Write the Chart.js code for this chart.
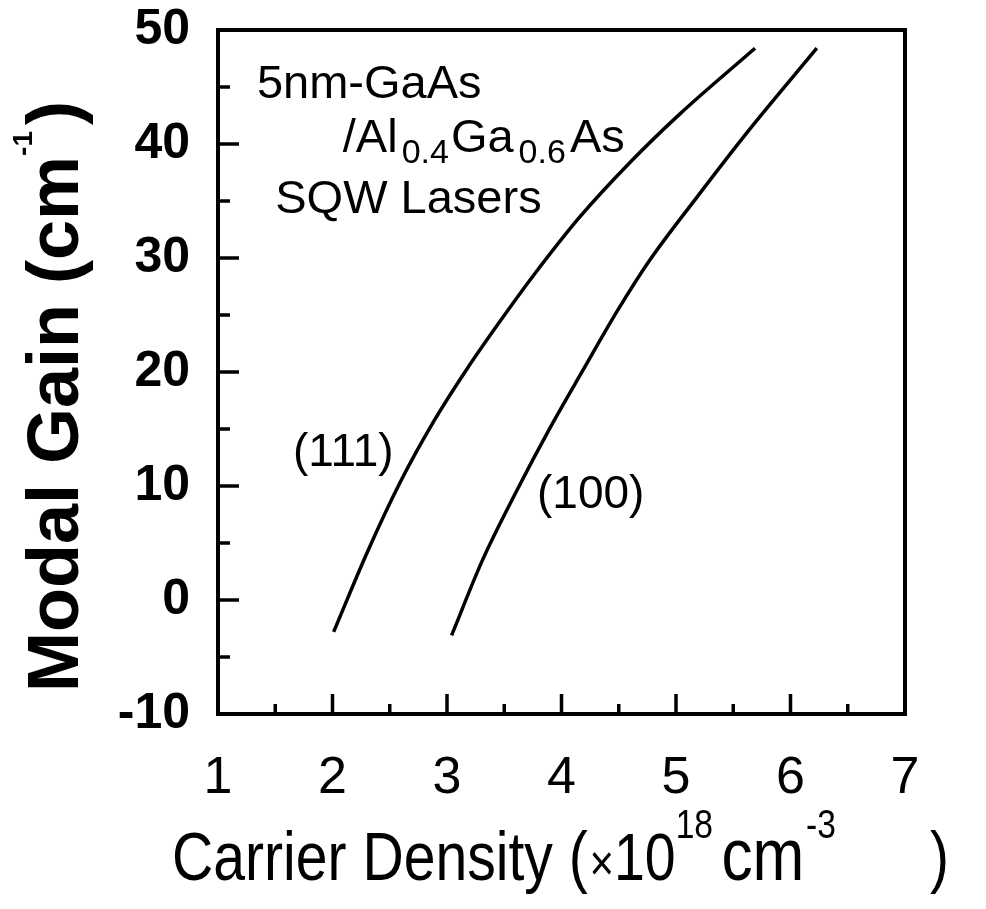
<!DOCTYPE html>
<html>
<head>
<meta charset="utf-8">
<script src="https://cdn.jsdelivr.net/npm/chart.js@4.4.1/dist/chart.umd.min.js"></script>
<style>
  html, body { margin: 0; padding: 0; background: #fff; }
  #wrap { width: 986px; height: 909px; position: relative; }
</style>
</head>
<body>
<div id="wrap"><canvas id="gainChart"></canvas></div>
<script>
// Modal gain (cm^-1) against carrier density (x1e18 cm^-3)
const density111 = [2.01, 2.30, 2.59, 2.88, 3.17, 3.46, 3.75, 4.16, 4.60, 5.03, 5.69];
const gain111    = [-2.8, 4.1, 10.3, 15.6, 20.2, 24.4, 28.4, 33.6, 38.4, 42.6, 48.4];

const density100 = [3.04, 3.31, 3.61, 3.90, 4.19, 4.49, 4.77, 5.18, 5.62, 6.23];
const gain100    = [-3.1, 3.5, 9.6, 15.1, 20.2, 25.4, 29.8, 35.3, 41.0, 48.4];

const xTickValues = [1, 2, 3, 4, 5, 6, 7];
const yTickValues = [-10, 0, 10, 20, 30, 40, 50];

const FONT = '"Liberation Sans", Arial, Helvetica, sans-serif';

// text placed in data coordinates (left edge / baseline)
const notes = [
    { x: 1.34, y: 44.0, runs: [{ t: '5nm-GaAs', size: 47 }] },
    { x: 2.09, y: 39.3, runs: [
        { t: '/Al', size: 47 },
        { t: '0.4', size: 34, dy: 11, gap: 4 },
        { t: 'Ga', size: 47, gap: 2 },
        { t: '0.6', size: 34, dy: 11, gap: 5 },
        { t: 'As', size: 47, gap: 4 }
    ] },
    { x: 1.50, y: 33.95, runs: [{ t: 'SQW Lasers', size: 47 }] },
    { x: 1.655, y: 11.75, runs: [{ t: '(111)', size: 46 }] },
    { x: 3.786, y: 8.07, runs: [{ t: '(100)', size: 46 }] }
];

function toPoints(xs, ys) {
    return xs.map((x, i) => ({ x: x, y: ys[i] }));
}

// draws a row of text pieces one after another, returns the end x
function drawRuns(ctx, runs, x, y, weight) {
    let cx = x;
    runs.forEach(r => {
        cx += r.gap || 0;
        ctx.font = (weight || 'normal') + ' ' + r.size + 'px ' + FONT;
        ctx.fillText(r.t, cx, y + (r.dy || 0));
        cx += ctx.measureText(r.t).width;
    });
    return cx;
}

const framePlugin = {
    id: 'frame',
    afterDatasetsDraw(chart) {
        const { ctx, chartArea: a, scales: { x, y } } = chart;
        ctx.save();
        ctx.strokeStyle = '#000';
        ctx.lineCap = 'butt';

        // inward ticks on bottom and left sides
        ctx.lineWidth = 3.5;
        ctx.beginPath();
        for (let v = 1.5; v < 7; v += 0.5) {
            const px = x.getPixelForValue(v);
            const len = Number.isInteger(v) ? 20 : 10;
            ctx.moveTo(px, a.bottom);
            ctx.lineTo(px, a.bottom - len);
        }
        for (let v = -5; v < 50; v += 5) {
            const py = y.getPixelForValue(v);
            const len = v % 10 === 0 ? 21 : 12;
            ctx.moveTo(a.left, py);
            ctx.lineTo(a.left + len, py);
        }
        ctx.stroke();

        ctx.lineWidth = 4;
        ctx.strokeRect(a.left, a.top, a.right - a.left, a.bottom - a.top);

        // labels inside the plot
        ctx.fillStyle = '#000';
        ctx.textBaseline = 'alphabetic';
        ctx.textAlign = 'left';
        notes.forEach(n => {
            drawRuns(ctx, n.runs, x.getPixelForValue(n.x), y.getPixelForValue(n.y));
        });
        ctx.restore();
    },
    afterDraw(chart) {
        const { ctx } = chart;
        ctx.save();
        ctx.fillStyle = '#000';
        ctx.textBaseline = 'alphabetic';
        ctx.textAlign = 'left';

        // y title, rotated
        ctx.save();
        ctx.translate(78, 692);
        ctx.rotate(-Math.PI / 2);
        drawRuns(ctx, [
            { t: 'Modal Gain (cm', size: 72 },
            { t: '-1', size: 28, dy: -46, gap: 0 },
            { t: ')', size: 72, gap: 6 }
        ], 0, 0, 'bold');
        ctx.restore();

        // x title, narrow face
        ctx.save();
        ctx.translate(172, 880);
        ctx.scale(0.84, 1);
        drawRuns(ctx, [
            { t: 'Carrier Density (', size: 68 },
            { t: '\u00d7', size: 50, gap: 2 },
            { t: '10', size: 66 },
            { t: '18', size: 40, dy: -42 },
            { t: 'cm', size: 74, gap: 10 },
            { t: '-3', size: 40, dy: -42, gap: 2 },
            { t: ')', size: 68, gap: 112 }
        ], 0, 0);
        ctx.restore();

        ctx.restore();
    }
};

const lineStyle = {
    showLine: true,
    borderColor: '#000',
    borderWidth: 3.5,
    pointRadius: 0,
    cubicInterpolationMode: 'monotone',
    fill: false
};

new Chart(document.getElementById('gainChart'), {
    type: 'scatter',
    data: {
        datasets: [
            Object.assign({ label: '(111)', data: toPoints(density111, gain111) }, lineStyle),
            Object.assign({ label: '(100)', data: toPoints(density100, gain100) }, lineStyle)
        ]
    },
    options: {
        responsive: true,
        maintainAspectRatio: false,
        animation: false,
        layout: { autoPadding: false, padding: { top: 30, right: 81, bottom: 0, left: 0 } },
        plugins: { legend: { display: false }, tooltip: { enabled: false } },
        scales: {
            x: {
                type: 'linear',
                min: 1,
                max: 7,
                afterFit: s => {
                    s.height = 195;
                    s.paddingLeft = 0;
                    s.paddingRight = 0;
                },
                afterBuildTicks: s => { s.ticks = xTickValues.map(v => ({ value: v })); },
                grid: { display: false, drawTicks: false },
                border: { display: false },
                ticks: {
                    color: '#000',
                    padding: 33,
                    font: { family: FONT, size: 52 },
                    callback: v => String(v)
                }
            },
            y: {
                type: 'linear',
                min: -10,
                max: 50,
                afterFit: s => {
                    s.width = 218;
                    s.paddingTop = 0;
                    s.paddingBottom = 0;
                },
                afterBuildTicks: s => { s.ticks = yTickValues.map(v => ({ value: v })); },
                grid: { display: false, drawTicks: false },
                border: { display: false },
                ticks: {
                    color: '#000',
                    padding: 28,
                    font: { family: FONT, size: 50, weight: 'bold' },
                    callback: v => String(v)
                }
            }
        }
    },
    plugins: [framePlugin]
});
</script>
</body>
</html>
